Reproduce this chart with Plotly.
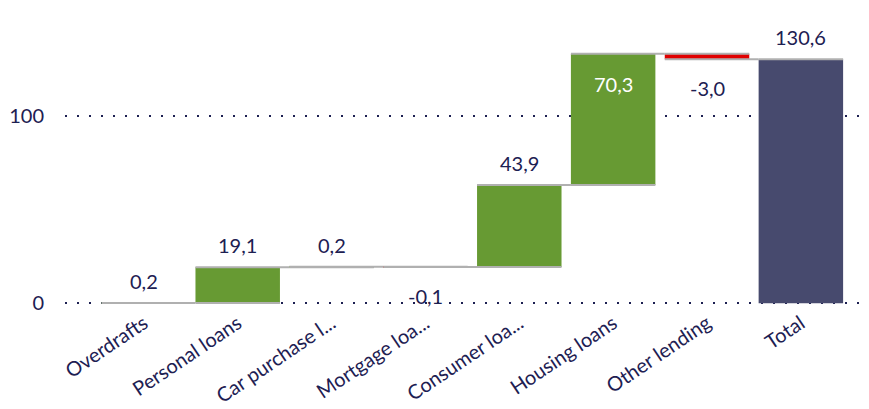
import plotly.graph_objects as go

categories = ["Overdrafts", "Personal loans", "Car purchase l...", "Mortgage loa...",
              "Consumer loa...", "Housing loans", "Other lending", "Total"]
values = [0.2, 19.1, 0.2, -0.1, 43.9, 70.3, -3.0, 130.6]
measures = ["relative"] * 7 + ["total"]
labels = [f"{v:.1f}".replace(".", ",") for v in values]
inside_label = "Housing loans"

navy = "#1d2052"
fnt = "Lato"

fig = go.Figure(go.Waterfall(
    x=categories,
    y=values,
    measure=measures,
    cliponaxis=False,
    increasing=dict(marker=dict(color="#679a33")),
    decreasing=dict(marker=dict(color="#e00000")),
    totals=dict(marker=dict(color="#474a6e")),
    connector=dict(mode="spanning", line=dict(color="#b0b0b0", width=2)),
))

# value labels: placed at the end of each step
running = 0
for cat, val, m, lab in zip(categories, values, measures, labels):
    end = val if m == "total" else running + val
    running = end
    if cat == inside_label:
        fig.add_annotation(x=cat, y=end, text=lab, showarrow=False, yanchor="top",
                           yshift=-16, font=dict(color="white", size=20, family=fnt))
    elif val < 0:
        fig.add_annotation(x=cat, y=end, text=lab, showarrow=False, yanchor="top",
                           yshift=-15, font=dict(color=navy, size=20, family=fnt))
    else:
        fig.add_annotation(x=cat, y=end, text=lab, showarrow=False, yanchor="bottom",
                           yshift=8, font=dict(color=navy, size=20, family=fnt))

# page body has an 8px margin, so the figure is 8px smaller than the window
fig.update_layout(
    width=861, height=401,
    margin=dict(l=57, r=9, t=15, b=102),
    plot_bgcolor="white", paper_bgcolor="white",
    font=dict(family=fnt, size=20, color=navy),
    showlegend=False,
    waterfallgap=0.1,
)
fig.update_xaxes(range=[-0.84, 7.63], tickangle=-34, showgrid=False,
                 tickfont=dict(size=20), automargin=False)
fig.update_yaxes(range=[-2, 150], tickvals=[0, 100], showgrid=True,
                 gridcolor=navy, gridwidth=2, griddash="2px,10px",
                 zeroline=False, ticklabelstandoff=20, automargin=False)

fig.write_html("out.html")
